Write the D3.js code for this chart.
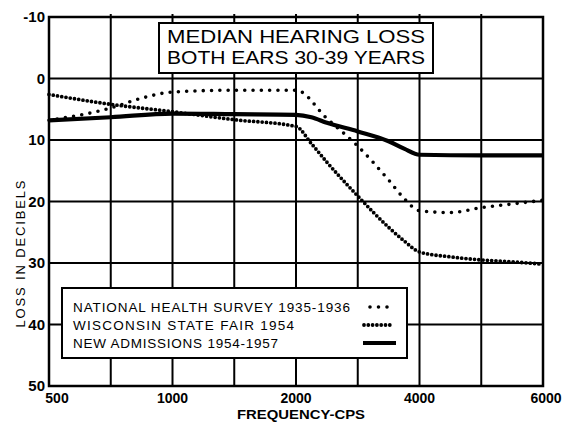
<!DOCTYPE html>
<html>
<head>
<meta charset="utf-8">
<script src="https://cdn.jsdelivr.net/npm/d3@7/dist/d3.min.js"></script>
<style>
  html, body { margin: 0; padding: 0; background: #fff; }
  svg text { font-family: "Liberation Sans", Arial, sans-serif; fill: #000; }
</style>
</head>
<body>
<svg id="chart" width="568" height="422"></svg>
<script>
// Frequency positions of the grid (audiogram columns)
const gridFreqs = [500, 750, 1000, 1500, 2000, 3000, 4000, 5000, 6000];
const freqTickLabels = [500, 1000, 2000, 4000, 6000];
const lossTicks = [-10, 0, 10, 20, 30, 40, 50];

// Median hearing loss, both ears, ages 30-39
const nhsFreqs   = [500, 750, 875, 1000, 1500, 2000, 2500, 3000, 3500, 3750, 4000, 4500, 5000, 5500, 6000];
const nhsLoss    = [6.8, 4.8, 3.2, 2.2, 1.9, 1.9, 6.5, 11, 16.5, 19.5, 21.5, 21.8, 21, 20.4, 19.8];

const wiscFreqs  = [500, 750, 1000, 1500, 2000, 2250, 2500, 3000, 3500, 3750, 4000, 4500, 5000, 5500, 6000];
const wiscLoss   = [2.6, 4.2, 5.4, 6.7, 7.8, 10.6, 13.6, 19.1, 24.2, 26.4, 28.2, 29, 29.5, 29.8, 30.2];

const newFreqs   = [500, 750, 1000, 1500, 2000, 2250, 2500, 3000, 3500, 3750, 4000, 5000, 6000];
const newLoss    = [6.8, 6.3, 5.7, 5.8, 5.9, 6.3, 7.2, 8.6, 10.2, 11.4, 12.4, 12.5, 12.5];

const seriesNames = ["NATIONAL HEALTH SURVEY 1935-1936", "WISCONSIN STATE FAIR 1954", "NEW ADMISSIONS 1954-1957"];
const titleLines = ["MEDIAN HEARING LOSS", "BOTH EARS 30-39 YEARS"];

const svg = d3.select("#chart");
const plotL = 49, plotR = 543, plotT = 17, plotB = 386;
const colW = (plotR - plotL) / 8;

// Octave columns from 500 to 4000, then two columns for 4000-6000
const x = d3.scaleLinear()
  .domain([500, 1000, 2000, 4000, 6000])
  .range([0, 2, 4, 6, 8].map(c => plotL + c * colW));
const y = d3.scaleLinear().domain([-10, 50]).range([plotT, plotB]);

// Grid
const grid = svg.append("g").attr("stroke", "#000").attr("stroke-width", 2);
grid.selectAll("line.v").data(gridFreqs).join("line")
  .attr("class", "v")
  .attr("x1", d => x(d)).attr("x2", d => x(d))
  .attr("y1", plotT).attr("y2", plotB);
grid.selectAll("line.h").data(lossTicks).join("line")
  .attr("class", "h")
  .attr("x1", plotL).attr("x2", plotR)
  .attr("y1", d => y(d)).attr("y2", d => y(d));
// small notches above the top border
grid.selectAll("line.n").data(gridFreqs.slice(1, -1)).join("line")
  .attr("class", "n")
  .attr("x1", d => x(d)).attr("x2", d => x(d))
  .attr("y1", plotT - 3).attr("y2", plotT);
svg.append("rect").attr("x", plotL).attr("y", plotT)
  .attr("width", plotR - plotL).attr("height", plotB - plotT)
  .attr("fill", "none").attr("stroke", "#000").attr("stroke-width", 2.5);

// Y tick labels
svg.append("g").selectAll("text").data(lossTicks).join("text")
  .attr("x", 45).attr("y", d => y(d)).attr("dy", "0.36em")
  .attr("text-anchor", "end")
  .style("font-size", "15px").style("font-weight", "bold")
  .text(d => d);

// X tick labels
svg.append("g").selectAll("text").data(freqTickLabels).join("text")
  .attr("x", d => x(d) + (d === 500 ? 8 : d === 6000 ? 3 : 0)).attr("y", 403)
  .attr("text-anchor", "middle")
  .style("font-size", "14px").style("font-weight", "bold")
  .text(d => d);

svg.append("text").attr("x", 301).attr("y", 419)
  .attr("text-anchor", "middle")
  .style("font-size", "13px").style("font-weight", "bold")
  .attr("textLength", 128).attr("lengthAdjust", "spacingAndGlyphs")
  .text("FREQUENCY-CPS");

svg.append("text")
  .attr("transform", "translate(25,254) rotate(-90)")
  .attr("text-anchor", "middle")
  .style("font-size", "13px")
  .attr("textLength", 147).attr("lengthAdjust", "spacing")
  .text("LOSS IN DECIBELS");

// Curves
const line = d3.line().x(d => x(d[0])).y(d => y(d[1])).curve(d3.curveMonotoneX);
const zip = (a, b) => a.map((v, i) => [v, b[i]]);

svg.append("path").datum(zip(newFreqs, newLoss))
  .attr("d", line).attr("fill", "none").attr("stroke", "#000")
  .attr("stroke-width", 4.2);
svg.append("path").datum(zip(wiscFreqs, wiscLoss))
  .attr("d", line).attr("fill", "none").attr("stroke", "#000")
  .attr("stroke-width", 3.8).attr("stroke-linecap", "round")
  .attr("stroke-dasharray", "0 4.3");
svg.append("path").datum(zip(nhsFreqs, nhsLoss))
  .attr("d", line).attr("fill", "none").attr("stroke", "#000")
  .attr("stroke-width", 3.6).attr("stroke-linecap", "round")
  .attr("stroke-dasharray", "0 8.3");

// Title box
const tb = svg.append("g");
tb.append("rect").attr("x", 159).attr("y", 23).attr("width", 274).attr("height", 50)
  .attr("fill", "#fff").attr("stroke", "#000").attr("stroke-width", 2);
tb.selectAll("text").data(titleLines).join("text")
  .attr("x", 296).attr("y", (d, i) => 43 + i * 21)
  .attr("text-anchor", "middle")
  .style("font-size", "19px")
  .attr("textLength", 258)
  .attr("lengthAdjust", "spacingAndGlyphs")
  .text(d => d);

// Legend
const lg = svg.append("g");
lg.append("rect").attr("x", 62).attr("y", 288).attr("width", 345).attr("height", 70)
  .attr("fill", "#fff").attr("stroke", "#000").attr("stroke-width", 2);
const rows = [307, 325, 343];
lg.selectAll("text").data(seriesNames).join("text")
  .attr("x", 73).attr("y", (d, i) => rows[i]).attr("dy", "0.36em")
  .style("font-size", "13.5px")
  .attr("textLength", (d, i) => [277, 221, 205][i])
  .attr("lengthAdjust", "spacing")
  .text(d => d);
const styles = [
  { w: 3.6, dash: "0 8.5", cap: "round", x1: 370, x2: 388 },
  { w: 3.8, dash: "0 4.3", cap: "round", x1: 364, x2: 394 },
  { w: 4.2, dash: null, cap: "butt", x1: 363, x2: 396 }
];
lg.selectAll("line").data(styles).join("line")
  .attr("x1", d => d.x1).attr("x2", d => d.x2 + 0.01)
  .attr("y1", (d, i) => rows[i]).attr("y2", (d, i) => rows[i])
  .attr("stroke", "#000").attr("stroke-width", d => d.w)
  .attr("stroke-linecap", d => d.cap)
  .attr("stroke-dasharray", d => d.dash);
</script>
</body>
</html>
